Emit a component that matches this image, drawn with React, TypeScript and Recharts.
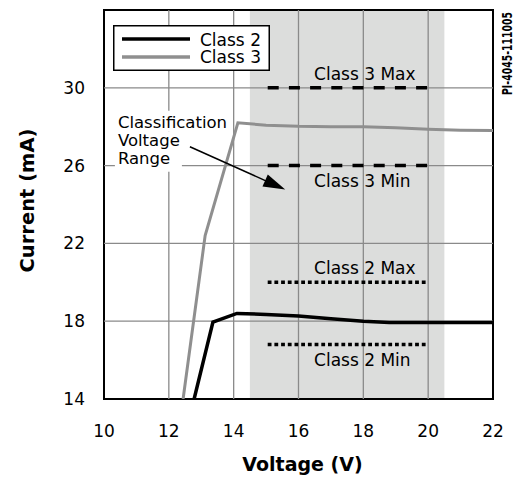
import React from 'react';
import { LineChart, Line, XAxis, YAxis, ReferenceArea, ReferenceLine, ReferenceDot, Legend } from 'recharts';

// ---- data ----
const class2Voltage = [12.78, 13.36, 14.1, 15, 16, 17, 18, 18.8, 20, 22];
const class2Current = [14, 17.95, 18.4, 18.35, 18.27, 18.13, 18.0, 17.93, 17.93, 17.93];
const class3Voltage = [12.44, 13.12, 14.13, 15, 16, 17, 18, 19, 20, 21, 22];
const class3Current = [14, 22.4, 28.2, 28.08, 28.02, 28.0, 28.0, 27.95, 27.87, 27.82, 27.8];

const xTicks = [10, 12, 14, 16, 18, 20, 22];
const yTicks = [14, 18, 22, 26, 30];
const xGridLines = [12, 14, 16, 18, 20];
const yGridLines = [18, 22, 26, 30];

const limitNames = ['Class 3 Max', 'Class 3 Min', 'Class 2 Max', 'Class 2 Min'];
const limitValues = [30, 26, 20, 16.8];
const limitVoltageStart = 15.05;
const limitVoltageEnd = 20;
const limitLabelVoltage = 16.48;
const classificationRange = [14.5, 20.5];
const arrowFrom = { x: 12.65, y: 26.97 };
const arrowTo = { x: 15.59, y: 24.77 };
const docId = 'PI-4045-111005';

const class2Data = class2Voltage.map((v, i) => ({ v, i: class2Current[i] }));
const class3Data = class3Voltage.map((v, i) => ({ v, i: class3Current[i] }));

const FONT = "'DejaVu Sans', sans-serif";
const GRID = '#8a8a8a';
const SHADE = '#dcdddc';
const GRAY_LINE = '#8f8f8f';

const LegendBox = (props: any) => {
  const payload = props.payload || [];
  return (
    <svg width={157} height={46} style={{ display: 'block' }}>
      <rect x={0.75} y={0.75} width={155.5} height={44.5} fill="#fff" stroke="#000" strokeWidth={1.5} />
      {payload.map((p: any, k: number) => (
        <g key={p.value}>
          <line x1={9} x2={77} y1={14 + 18 * k} y2={14 + 18 * k} stroke={p.color} strokeWidth={3.5} />
          <text x={87} y={20.5 + 17.8 * k} fontFamily={FONT} fontSize={17} fill="#000">
            {p.value}
          </text>
        </g>
      ))}
    </svg>
  );
};

const limitLabel = (name: string, below: boolean) => (props: any) => {
  const vb = props.viewBox || {};
  return (
    <text x={vb.x} y={vb.y + (below ? 21 : -8)} fontFamily={FONT} fontSize={17} fill="#000">
      {name}
    </text>
  );
};

const classificationLabel = (props: any) => {
  const vb = props.viewBox || {};
  const x0 = vb.x - 72;
  const y0 = vb.y;
  return (
    <g>
      <rect x={x0 - 3} y={y0 - 36} width={115} height={21} fill="#fff" />
      <rect x={x0 - 3} y={y0 - 15} width={67} height={40} fill="#fff" />
      <text fontFamily={FONT} fontSize={16.5} fill="#000">
        <tspan x={x0} y={y0 - 19}>Classification</tspan>
        <tspan x={x0} y={y0 - 1}>Voltage</tspan>
        <tspan x={x0} y={y0 + 17}>Range</tspan>
      </text>
    </g>
  );
};

const docIdLabel = (props: any) => {
  const vb = props.viewBox || {};
  return (
    <text
      transform={`translate(${vb.x + 19},${vb.y + 85}) rotate(-90)`}
      fontFamily={FONT}
      fontWeight="bold"
      fontSize={14}
      textLength={83}
      lengthAdjust="spacingAndGlyphs"
      fill="#000"
    >
      {docId}
    </text>
  );
};

const Arrow = (props: any) => {
  const { x1, y1, x2, y2 } = props;
  const dx = x2 - x1;
  const dy = y2 - y1;
  const len = Math.sqrt(dx * dx + dy * dy) || 1;
  const ux = dx / len;
  const uy = dy / len;
  const hl = 22;
  const hw = 6.5;
  const bx = x2 - ux * hl;
  const by = y2 - uy * hl;
  const pts = `${x2},${y2} ${bx - uy * hw},${by + ux * hw} ${bx + uy * hw},${by - ux * hw}`;
  return (
    <g>
      <line x1={x1} y1={y1} x2={bx + ux * 2} y2={by + uy * 2} stroke="#000" strokeWidth={1.5} />
      <polygon points={pts} fill="#000" />
    </g>
  );
};

const xTitle = (props: any) => {
  const vb = props.viewBox || {};
  return (
    <text x={vb.x + vb.width / 2 + 4} y={vb.y + 72} textAnchor="middle" fontFamily={FONT} fontWeight="bold" fontSize={19} fill="#000">
      Voltage (V)
    </text>
  );
};

const yTitle = (props: any) => {
  const vb = props.viewBox || {};
  const cy = vb.y + vb.height / 2 - 4;
  return (
    <text
      transform={`translate(34,${cy}) rotate(-90)`}
      textAnchor="middle"
      fontFamily={FONT}
      fontWeight="bold"
      fontSize={19.5}
      fill="#000"
    >
      Current (mA)
    </text>
  );
};

export default function App() {
  return (
    <div style={{ position: 'absolute', left: 0, top: 0, width: 519, height: 479, background: '#fff' }}>
      <LineChart width={519} height={479} margin={{ top: 10, right: 26, left: 0, bottom: 0 }}>
        <XAxis
          type="number"
          dataKey="v"
          domain={[10, 22]}
          ticks={xTicks}
          allowDataOverflow
          axisLine={false}
          tickLine={false}
          tickSize={0}
          tickMargin={26}
          height={80}
          tick={{ fontSize: 17, fill: '#000', fontFamily: FONT }}
          label={{ content: xTitle }}
        />
        <YAxis
          type="number"
          domain={[14, 34]}
          ticks={yTicks}
          allowDataOverflow
          axisLine={false}
          tickLine={false}
          tickSize={0}
          tickMargin={19}
          width={104}
          tick={{ fontSize: 17, fill: '#000', fontFamily: FONT }}
          label={{ content: yTitle }}
        />
        <ReferenceArea x1={classificationRange[0]} x2={classificationRange[1]} y1={14} y2={34} fill={SHADE} fillOpacity={1} stroke="none" />
        {xGridLines.map((x) => (
          <ReferenceLine key={'gx' + x} x={x} stroke={GRID} strokeWidth={1.3} />
        ))}
        {yGridLines.map((y) => (
          <ReferenceLine key={'gy' + y} y={y} stroke={GRID} strokeWidth={1.3} />
        ))}
        <Line
          name="Class 2"
          data={class2Data}
          dataKey="i"
          type="linear"
          stroke="#000"
          strokeWidth={3.5}
          dot={false}
          activeDot={false}
          isAnimationActive={false}
        />
        <Line
          name="Class 3"
          data={class3Data}
          dataKey="i"
          type="linear"
          stroke={GRAY_LINE}
          strokeWidth={3}
          dot={false}
          activeDot={false}
          isAnimationActive={false}
        />
        {limitValues.map((val, k) => (
          <ReferenceLine
            key={'lim' + k}
            segment={[
              { x: limitVoltageStart, y: val },
              { x: limitVoltageEnd, y: val },
            ]}
            stroke="#000"
            strokeWidth={3.5}
            strokeDasharray={k < 2 ? '11 10.2' : '3.8 2.9'}
          />
        ))}
        {limitValues.map((val, k) => (
          <ReferenceDot
            key={'lab' + k}
            x={limitLabelVoltage}
            y={val}
            r={0}
            fill="none"
            stroke="none"
            label={{ content: limitLabel(limitNames[k], k % 2 === 1) }}
          />
        ))}
        <ReferenceDot x={arrowFrom.x} y={arrowFrom.y} r={0} fill="none" stroke="none" label={{ content: classificationLabel }} />
        <ReferenceLine segment={[arrowFrom, arrowTo]} shape={Arrow} />
        <ReferenceDot x={22} y={34} r={0} fill="none" stroke="none" ifOverflow="visible" label={{ content: docIdLabel }} />
        <ReferenceArea x1={10} x2={22} y1={14} y2={34} fill="none" stroke="#000" strokeWidth={2} ifOverflow="visible" />
        <Legend
          verticalAlign="middle"
          align="center"
          layout="horizontal"
          wrapperStyle={{ position: 'absolute', left: 113, top: 25, width: 157, height: 46 }}
          content={LegendBox}
        />
      </LineChart>
    </div>
  );
}
